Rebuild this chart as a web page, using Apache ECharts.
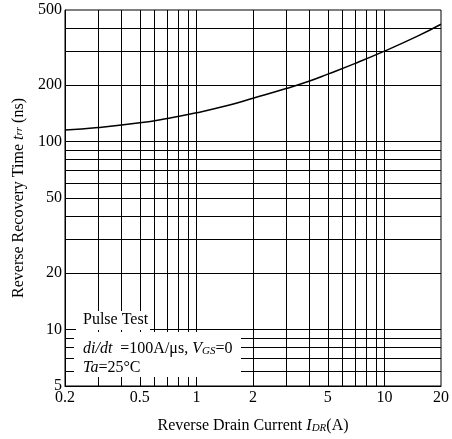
<!DOCTYPE html>
<html><head><meta charset="utf-8">
<script src="https://cdn.jsdelivr.net/npm/echarts@6/dist/echarts.min.js"></script>
<style>html,body{margin:0;padding:0;background:#fff}#c{width:452px;height:439px}</style>
</head><body><div id="c"></div>
<script>
const currentA = [0.2, 0.3, 0.5, 0.7, 1, 1.5, 2, 3, 4, 5, 7, 10, 15, 20];
const trrNs = [115, 118.5, 125.5, 132.5, 142, 156, 169.5, 191, 209.5, 228, 260, 302, 363, 420];
const xGrid = [0.3,0.4,0.5,0.6,0.7,0.8,0.9,1,2,3,4,5,6,7,8,9,10];
const yGrid = [6,7,8,9,10,20,30,40,50,60,70,80,90,100,200,300,400];
const xLabels = [0.2,0.5,1,2,5,10,20];
const yLabels = [5,10,20,50,100,200,500];

const FONT = 'Liberation Serif';
const chart = echarts.init(document.getElementById('c'), null, {renderer:'canvas'});
const lineBlack = {color:'#000', width:1};
chart.setOption({
  animation:false,
  grid:{left:65,right:10,top:10,bottom:52,show:true,borderColor:'#000',borderWidth:1,backgroundColor:'transparent'},
  xAxis:{
    type:'log', logBase:10, min:0.2, max:20, position:'bottom',
    axisLine:{show:true,lineStyle:lineBlack},
    axisTick:{show:false, customValues:xGrid},
    splitLine:{show:true,lineStyle:lineBlack},
    minorSplitLine:{show:false},
    axisLabel:{customValues:xLabels, color:'#000', fontFamily:FONT, fontSize:16, margin:4, formatter:v=>String(v)},
    name:'Reverse Drain Current {i|I}{s|DR}{n|(A)}', nameLocation:'middle', nameGap:32,
    nameTextStyle:{color:'#000', fontFamily:FONT, fontSize:16,
      rich:{i:{fontStyle:'italic',fontFamily:FONT,fontSize:16,color:'#000'},
            s:{fontStyle:'italic',fontFamily:FONT,fontSize:11,color:'#000',verticalAlign:'bottom',padding:[4,0,0,0]},
            n:{fontFamily:FONT,fontSize:16,color:'#000'}}}
  },
  yAxis:{
    type:'log', logBase:10, min:5, max:500, position:'left',
    axisLine:{show:true,lineStyle:lineBlack},
    axisTick:{show:false, customValues:yGrid},
    splitLine:{show:true,lineStyle:lineBlack},
    axisLabel:{customValues:yLabels, color:'#000', fontFamily:FONT, fontSize:16, margin:3, formatter:v=>String(v)},
    name:'Reverse Recovery Time {i|t}{s|rr} {n|(ns)}', nameLocation:'middle', nameGap:38, nameRotate:90,
    nameTextStyle:{color:'#000', fontFamily:FONT, fontSize:16,
      rich:{i:{fontStyle:'italic',fontFamily:FONT,fontSize:16,color:'#000'},
            s:{fontStyle:'italic',fontFamily:FONT,fontSize:11,color:'#000'},
            n:{fontFamily:FONT,fontSize:16,color:'#000'}}}
  },
  graphic:[
    {type:'rect', z:50, shape:{x:76,y:311,width:74,height:19}, style:{fill:'#fff'}},
    {type:'rect', z:50, shape:{x:74,y:332,width:167,height:45}, style:{fill:'#fff'}},
    {type:'text', z:55, left:83, top:312, style:{text:'Pulse Test', font:'16px "Liberation Serif"', fill:'#000'}},
    {type:'text', z:55, left:83, top:341, style:{text:'{i|di/dt}  =100A/μs, {i|V}{s|GS}=0', font:'16px "Liberation Serif"', fill:'#000',
      rich:{i:{fontStyle:'italic',fontFamily:FONT,fontSize:16},s:{fontStyle:'italic',fontFamily:FONT,fontSize:11,padding:[5,0,0,0]}}}},
    {type:'text', z:55, left:83, top:360, style:{text:'{i|Ta}=25°C', font:'16px "Liberation Serif"', fill:'#000',
      rich:{i:{fontStyle:'italic',fontFamily:FONT,fontSize:16}}}}
  ],
  series:[{
    type:'line', smooth:true, showSymbol:false,
    lineStyle:{color:'#000', width:1.5},
    data: currentA.map((x,i)=>[x, trrNs[i]])
  }]
});
</script></body></html>
